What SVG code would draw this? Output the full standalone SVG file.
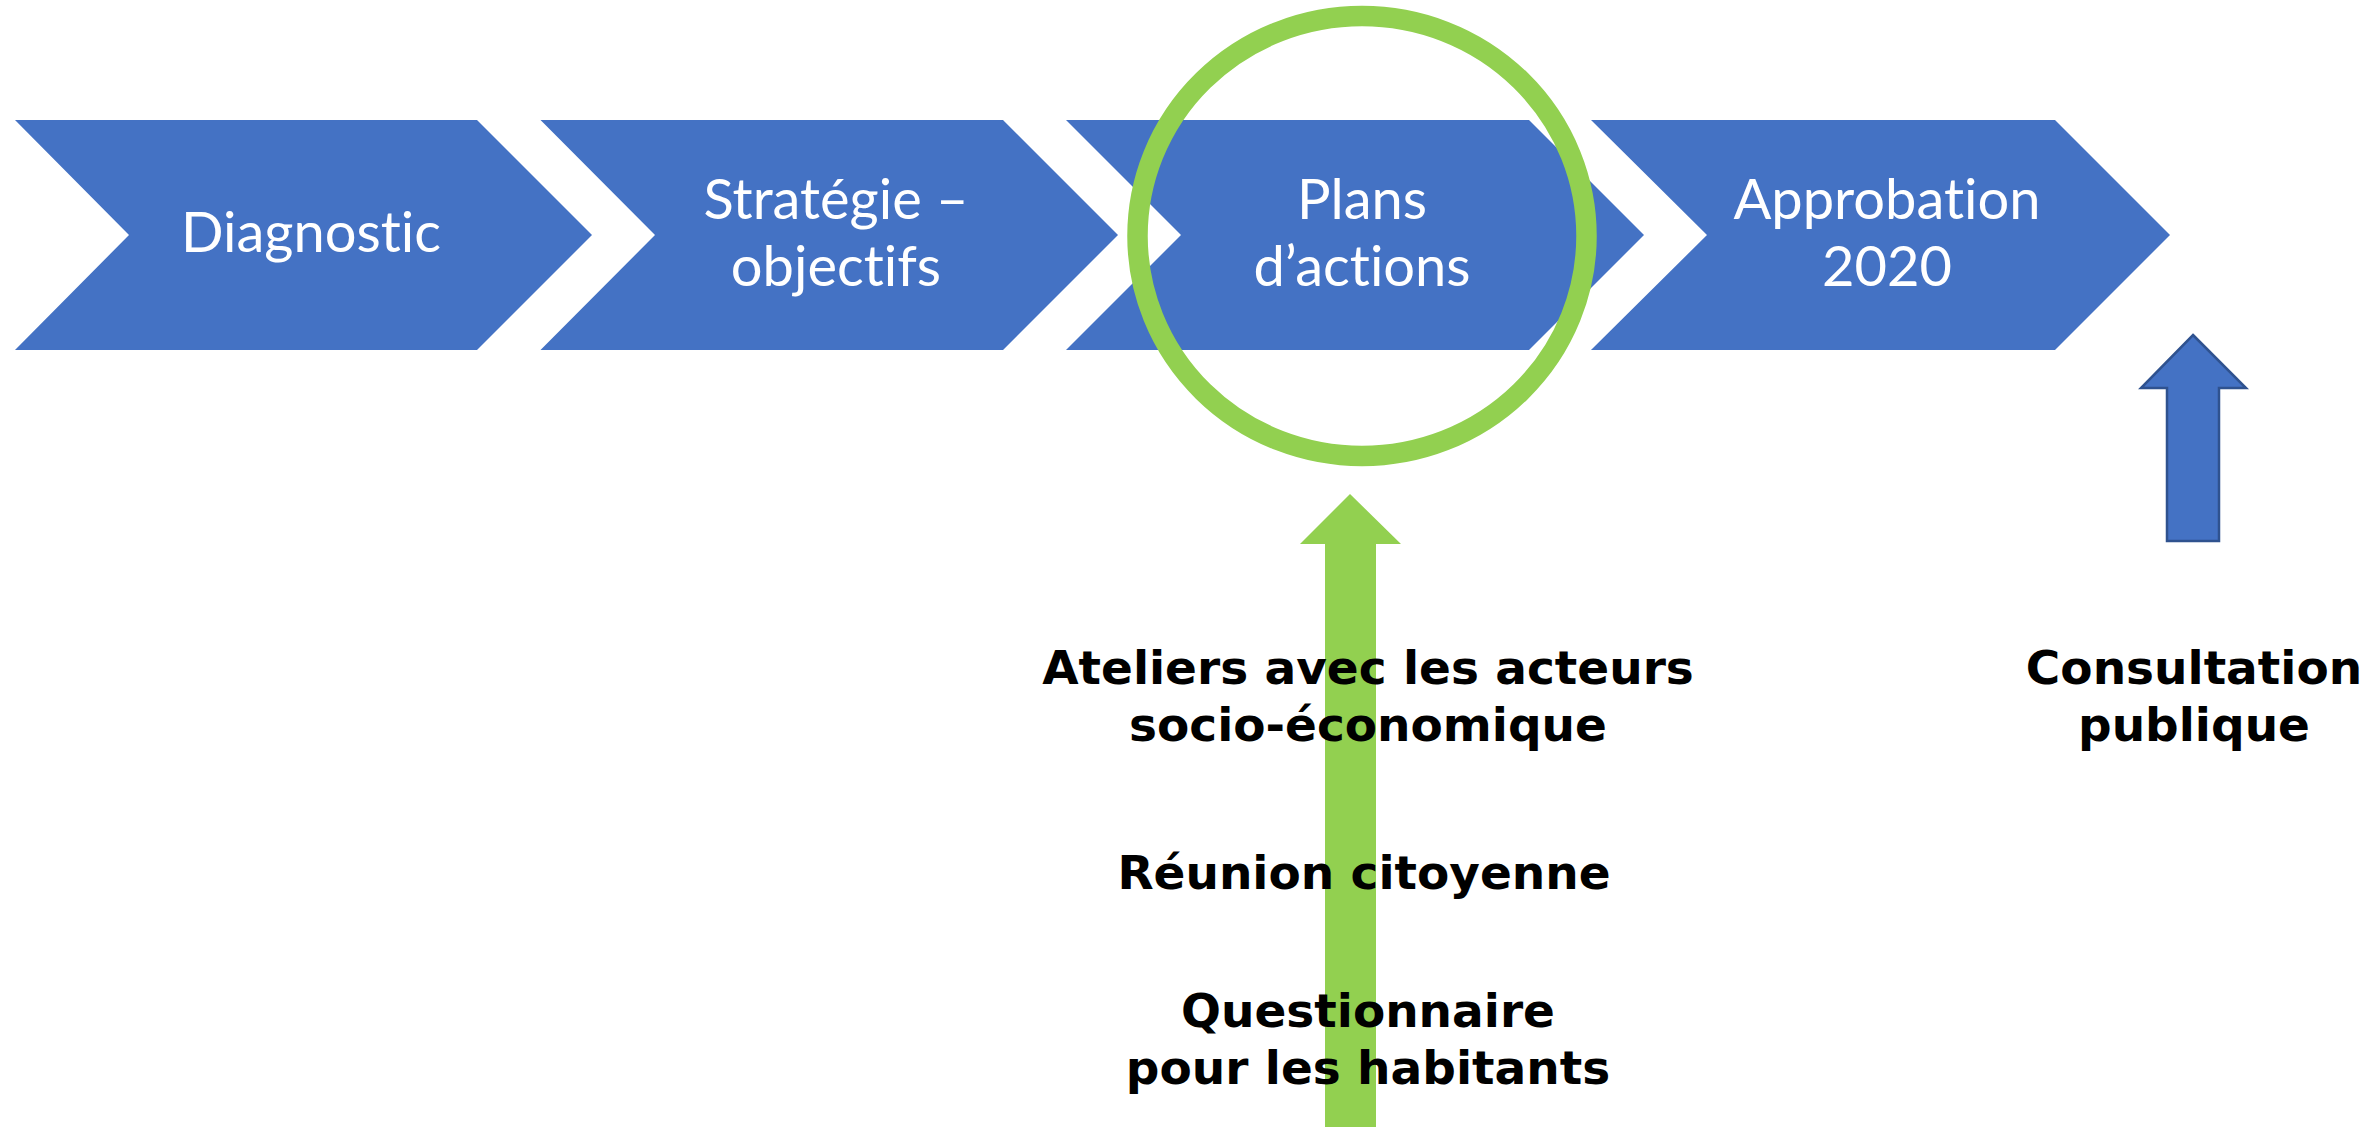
<svg xmlns="http://www.w3.org/2000/svg" width="2374" height="1127" viewBox="0 0 2374 1127">
<style>
.chev{fill:#4472C4;}
.ct{font-family:Lato,"Liberation Sans",sans-serif;font-size:56px;fill:#ffffff;text-anchor:middle;font-variant-ligatures:none;font-feature-settings:"liga" 0;}
.bt{font-family:"DejaVu Sans",Verdana,sans-serif;font-weight:bold;font-size:47px;fill:#000000;text-anchor:middle;}
</style>
<rect width="2374" height="1127" fill="#ffffff"/>
<g id="diagnostic">
<path class="chev" d="M15,120 L477,120 L592,235 L477,350 L15,350 L129,235 Z"/>
<text class="ct" x="311" y="252">Diagnostic</text>
</g>
<g id="strategie">
<path class="chev" d="M540.5,120 L1003,120 L1118,235 L1003,350 L540.5,350 L655,235 Z"/>
<text class="ct" x="836" y="219">Stratégie –</text>
<text class="ct" x="836" y="286">objectifs</text>
</g>
<g id="plans">
<path class="chev" d="M1066,120 L1529,120 L1644,235 L1529,350 L1066,350 L1181,235 Z"/>
<text class="ct" x="1362" y="219">Plans</text>
<text class="ct" x="1362" y="286">d’actions</text>
</g>
<g id="approbation">
<path class="chev" d="M1591,120 L2055,120 L2170,235 L2055,350 L1591,350 L1707,235 Z"/>
<text class="ct" x="1887" y="219">Approbation</text>
<text class="ct" x="1887" y="286">2020</text>
</g>
<g id="highlight">
<ellipse cx="1362" cy="236" rx="224.5" ry="220" fill="none" stroke="#92D050" stroke-width="20.5"/>
</g>
<g id="connectors">
<polygon points="1350,494 1401,544 1376,544 1376,1127 1325,1127 1325,544 1300,544" fill="#92D050"/>
<polygon points="2193,335 2246,388 2219,388 2219,541 2167,541 2167,388 2141,388" fill="#4472C4" stroke="#2F528F" stroke-width="2.5"/>
</g>
<g id="participation">
<text class="bt" x="1368" y="684">Ateliers avec les acteurs</text>
<text class="bt" x="1368" y="741">socio-économique</text>
<text class="bt" x="1364" y="889">Réunion citoyenne</text>
<text class="bt" x="1368" y="1027">Questionnaire</text>
<text class="bt" x="1368" y="1084">pour les habitants</text>
</g>
<g id="consultation">
<text class="bt" x="2194" y="684">Consultation</text>
<text class="bt" x="2194" y="741">publique</text>
</g>
</svg>
